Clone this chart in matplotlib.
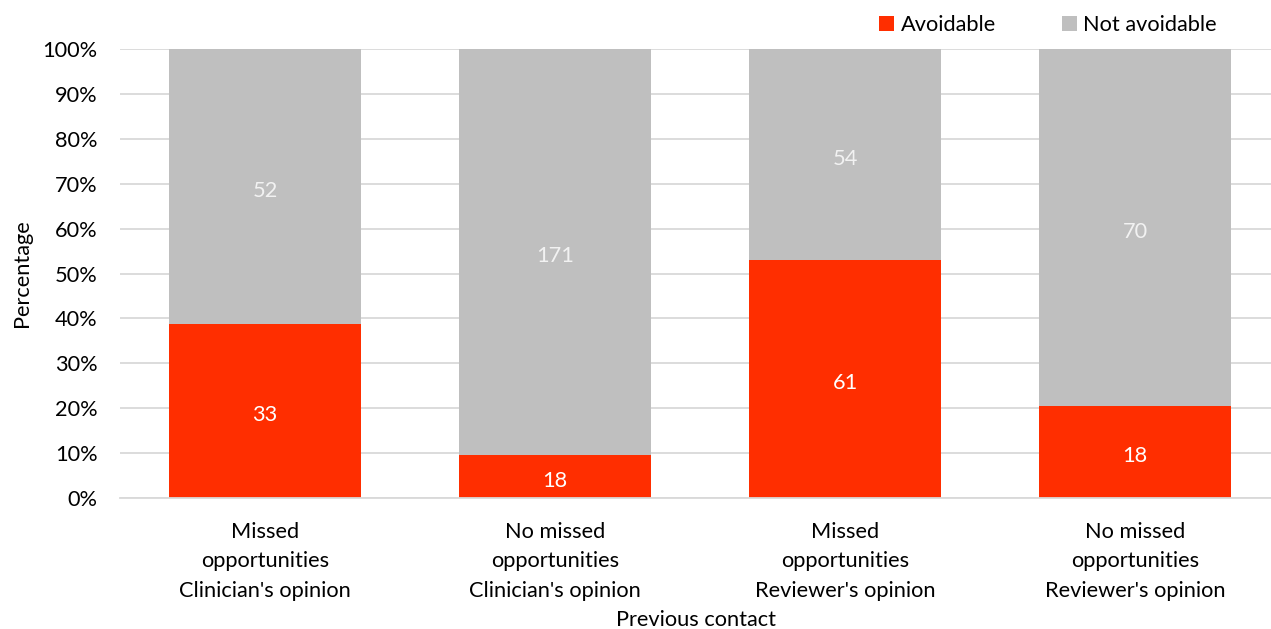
import matplotlib.pyplot as plt
from matplotlib.ticker import PercentFormatter

plt.rcParams['font.family'] = ['Lato', 'DejaVu Sans']

categories = ["Missed\nopportunities\nClinician's opinion",
              "No missed\nopportunities\nClinician's opinion",
              "Missed\nopportunities\nReviewer's opinion",
              "No missed\nopportunities\nReviewer's opinion"]
avoidable = [33, 18, 61, 18]
not_avoidable = [52, 171, 54, 70]

red = '#FF2E00'
grey = '#BFBFBF'
fs = 15.7

totals = [a + n for a, n in zip(avoidable, not_avoidable)]
pct_av = [100 * a / t for a, t in zip(avoidable, totals)]
pct_not = [100 * n / t for n, t in zip(not_avoidable, totals)]

fig = plt.figure(figsize=(12.71, 6.29), dpi=100)
ax = fig.add_axes([120 / 1271, 1 - 498 / 629, 1 - 120 / 1271, 449 / 629])

x = range(len(categories))
b1 = ax.bar(x, pct_av, width=0.662, color=red, label='Avoidable', zorder=2)
b2 = ax.bar(x, pct_not, width=0.662, bottom=pct_av, color=grey, label='Not avoidable', zorder=2)

# count labels in the middle of each segment, nudged down a touch
for bars, vals, col in [(b1, avoidable, 'white'), (b2, not_avoidable, '#F2F2F2')]:
    for txt in ax.bar_label(bars, labels=[str(v) for v in vals], label_type='center',
                            color=col, fontsize=fs):
        txt.xyann = (0, -3)

ax.set_ylim(0, 100)
ax.set_xlim(-0.5, (1271 - 120) / 290 - 0.5)
ax.set_yticks(range(0, 101, 10))
ax.yaxis.set_major_formatter(PercentFormatter(decimals=0))
ax.set_xticks(list(x))
ax.set_xticklabels(categories, fontsize=fs)
for t in ax.get_xticklabels():
    t.set_linespacing(1.6)
ax.tick_params(axis='y', labelsize=fs, length=0, pad=16)
ax.tick_params(axis='x', length=0, pad=17)
ax.grid(axis='y', color='#D9D9D9', linewidth=1.3, zorder=0)
for s in ['top', 'right', 'left']:
    ax.spines[s].set_visible(False)
ax.spines['bottom'].set_color('#D9D9D9')
ax.spines['bottom'].set_linewidth(1.3)

ax.set_ylabel('Percentage', fontsize=fs)
ax.set_xlabel('Previous contact', fontsize=fs)
ax.yaxis.set_label_coords(-88 / 1151, 0.5)
ax.xaxis.set_label_coords(0.5, -112 / 449)

fig.legend(loc='center', bbox_to_anchor=(1048 / 1271, 1 - 25 / 629), ncol=2, frameon=False,
           fontsize=fs, handlelength=0.7, handleheight=0.7, handletextpad=0.3,
           columnspacing=3.0)

fig.savefig('out.png', dpi=100)
